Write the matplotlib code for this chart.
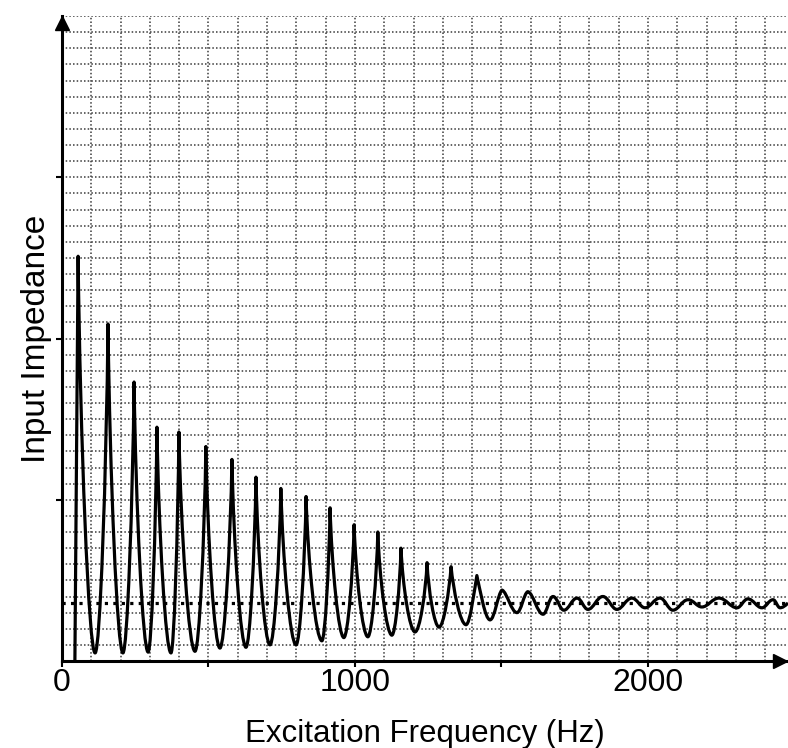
import numpy as np
import matplotlib
matplotlib.use("Agg")
from matplotlib import pyplot as plt
from matplotlib.path import Path
from matplotlib.patches import PathPatch
from matplotlib.ticker import MultipleLocator

plt.rcParams["font.family"] = ["Liberation Sans", "DejaVu Sans"]

# curve: start point, then alternating peak / trough
start_hz, start_val = 44, 0.0
peak_hz = [55, 157, 246, 324, 399, 491, 580, 662, 747, 833, 915, 997, 1078, 1157,
           1246, 1328, 1416, 1502, 1590, 1676, 1758, 1846, 1945, 2041, 2137, 2242,
           2341, 2427]
peak_val = [25.1, 20.9, 17.3, 14.5, 14.2, 13.3, 12.5, 11.4, 10.7, 10.2, 9.5, 8.45,
            8.0, 7.0, 6.1, 5.85, 5.3, 4.4, 4.3, 4.0, 3.9, 4.0, 3.9, 3.9, 3.8, 3.9,
            3.85, 3.8]
trough_hz = [113, 208, 294, 372, 454, 539, 628, 710, 799, 887, 962, 1044, 1126, 1205,
             1287, 1379, 1461, 1553, 1642, 1713, 1795, 1894, 1990, 2085, 2184, 2304,
             2389, 2451]
trough_val = [0.5, 0.5, 0.55, 0.5, 0.6, 0.8, 0.85, 1.0, 1.0, 1.25, 1.45, 1.5, 1.6, 1.8,
              2.1, 2.25, 2.55, 3.0, 2.9, 3.15, 3.2, 3.2, 3.3, 3.15, 3.35, 3.3, 3.3, 3.3]
end_hz, end_val = 2478, 3.6
ref_level = 3.6

x_ticks = [0, 500, 1000, 1500, 2000]
x_tick_labels = ["0", "", "1000", "", "2000"]
y_ticks = [10, 20, 30]

fig = plt.figure(figsize=(7.88, 7.48), dpi=100)
ax = fig.add_axes([62 / 788, 87 / 748, 726 / 788, 645 / 748])
ax.set_xlim(0, 2478)
ax.set_ylim(0, 40)

# graph-paper grid
ax.xaxis.set_minor_locator(MultipleLocator(100))
ax.yaxis.set_minor_locator(MultipleLocator(1))
ax.grid(which="both", color="#3a3a3a", linestyle=(0, (1, 1.4)), linewidth=1.1)
ax.set_axisbelow(True)

# build the curve as a bezier path: sharp peaks, round troughs
ext = []
for i in range(len(peak_hz)):
    ext.append((peak_hz[i], peak_val[i], "p"))
    ext.append((trough_hz[i], trough_val[i], "t"))

def sharpness(k):
    x, y, kind = ext[k]
    nb = [ext[j][1] for j in (k - 1, k + 1) if 0 <= j < len(ext)]
    prom = y - np.mean(nb)
    return float(np.clip((prom - 1.0) / 3.0, 0, 1))

verts = [(start_hz, start_val), (ext[0][0], ext[0][1])]
codes = [Path.MOVETO, Path.LINETO]
for k in range(len(ext) - 1):
    a, b = ext[k], ext[k + 1]
    if a[2] == "p":
        p, t, sp = a, b, sharpness(k)
    else:
        p, t, sp = b, a, sharpness(k + 1)
    dx, dy = t[0] - p[0], t[1] - p[1]
    cp = (p[0] + ((1 - sp) * 0.4 + sp * 0.12) * dx, p[1] + sp * 0.45 * dy)
    ct = (t[0] - 0.38 * dx, t[1])
    if a[2] == "p":
        verts += [cp, ct, (t[0], t[1])]
    else:
        verts += [ct, cp, (p[0], p[1])]
    codes += [Path.CURVE4] * 3
# last rise to the right edge
last = ext[-1]
verts += [(last[0] + 0.45 * (end_hz - last[0]), last[1]), (end_hz, end_val)]
codes += [Path.CURVE3] * 2

ax.add_patch(PathPatch(Path(verts, codes), fill=False, edgecolor="black",
                       linewidth=2.3, joinstyle="round", capstyle="butt", zorder=3))

ax.axhline(ref_level, color="black", linestyle=":", linewidth=2.3, zorder=2)

# axes with arrow heads
for s in ["top", "right"]:
    ax.spines[s].set_visible(False)
for s in ["left", "bottom"]:
    ax.spines[s].set_linewidth(2.2)
    ax.spines[s].set_zorder(4)
ax.plot(0, 0.989, "^", color="black", ms=10, transform=ax.transAxes, clip_on=False, zorder=5)
ax.plot(0.989, 0, ">", color="black", ms=10, transform=ax.transAxes, clip_on=False, zorder=5)

ax.set_xticks(x_ticks)
ax.set_xticklabels(x_tick_labels)
ax.set_yticks(y_ticks)
ax.set_yticklabels([])
ax.tick_params(which="major", direction="out", width=1.5, length=4.3, labelsize=23, pad=1)
ax.tick_params(which="minor", length=0)

ax.set_xlabel("Excitation Frequency (Hz)", fontsize=22.5, labelpad=15)
ax.set_ylabel("Input Impedance", fontsize=24, labelpad=2)

fig.savefig("out.png", dpi=100)
